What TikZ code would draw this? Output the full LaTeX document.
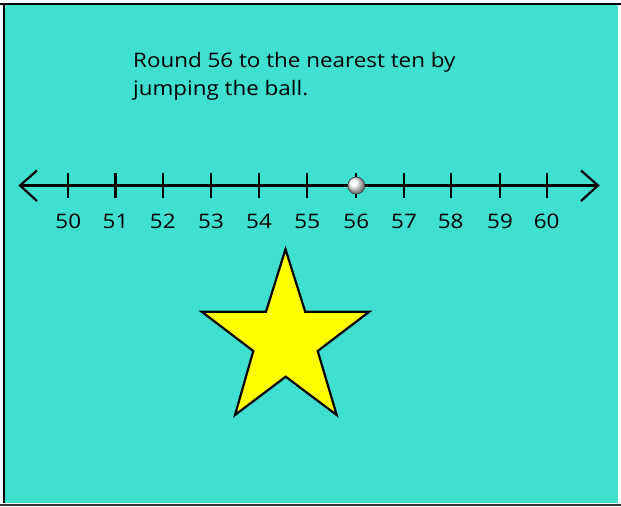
\documentclass[tikz,border=0pt]{standalone}
\usepackage{fontspec}
\setmainfont{Open Sans}[FakeStretch=1.12]
\definecolor{turq}{HTML}{40E0D0}
\definecolor{staryellow}{HTML}{FFFF00}
\begin{document}
\begin{tikzpicture}[x=1pt,y=-1pt,
  numline/.style={line width=2.2pt,black},
  tickmark/.style={line width=2.2pt,black},
  numlabel/.style={font=\fontsize{20}{24}\selectfont,anchor=base},
  textlabel/.style={font=\fontsize{20}{28}\selectfont,anchor=base west,inner sep=0pt}]
\useasboundingbox (0,0) rectangle (621,506);
% background panel
\fill[turq] (4,4) rectangle (618,503);
\draw[line width=2.5pt,black] (0,4) -- (621,4);
\draw[line width=2.5pt,black] (4,4) -- (4,503);
\draw[line width=2pt,black!80] (0,504.5) -- (621,504.5);
% text
\node[textlabel] (t1) at (133,67) {Round 56 to the nearest ten by};
\node[textlabel] (t2) at (133,95) {jumping the ball.};
% number line
\coordinate (L) at (20,185.5);
\coordinate (R) at (598,185.5);
\draw[numline] (L) -- (R);
\draw[numline,line join=miter] (37,170.5) -- (L) -- (37,201);
\draw[numline,line join=miter] (581,170.5) -- (R) -- (581,201);
\foreach \n/\x in {50/68.3,51/115.5,52/162.8,53/211,54/259,55/307.3,56/356.3,57/404,58/450.7,59/500,60/546.7}{
  \draw[tickmark] (\x,173) -- (\x,198);
  \node[numlabel] (n\n) at (\x,228) {\n};
}
% ball
\shade[ball color=white] (356.3,185.5) circle (8.5);
\draw[line width=0.7pt,black!75] (356.3,185.5) circle (8.5);
% star
\draw[line width=2.2pt,black,fill=staryellow,line join=miter]
  (285.5,249.3) -- (305.2,311.7) -- (369.3,311.7) -- (317.7,351) -- (336.7,415)
  -- (285.7,376.7) -- (235,415) -- (253.3,351) -- (201.7,311.7) -- (266,311.7) -- cycle;
\end{tikzpicture}
\end{document}
